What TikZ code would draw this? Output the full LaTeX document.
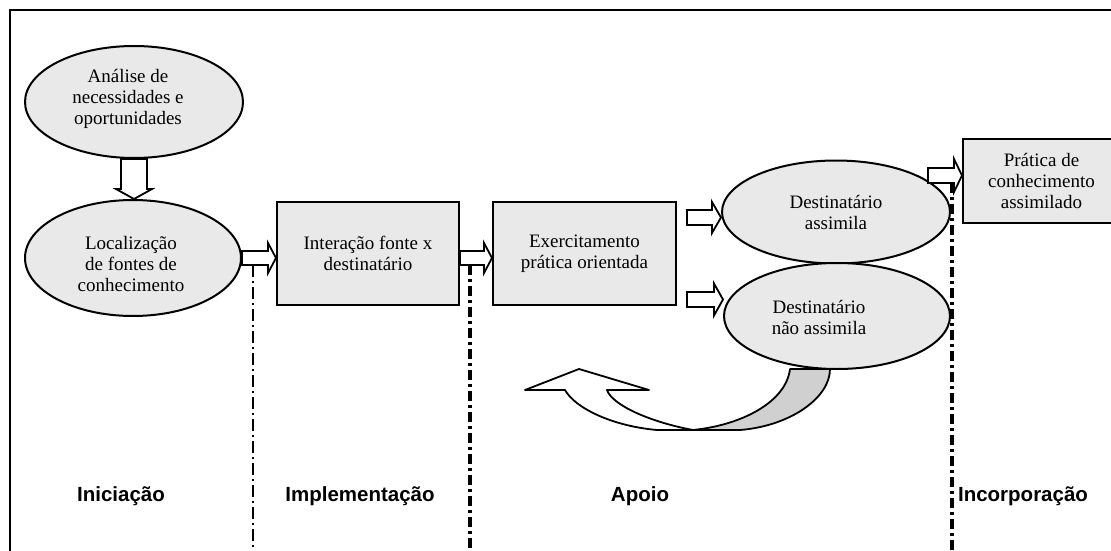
\documentclass[tikz,border=0pt]{standalone}
\usepackage{fontspec}
\setmainfont{Liberation Serif}
\newfontfamily\labfont{Liberation Sans}
\usetikzlibrary{shapes.geometric,calc}
\definecolor{boxgray}{RGB}{233,233,233}
\definecolor{ribbongray}{RGB}{208,208,208}
\newcommand\harrow[5]{%
  \draw[barrow] let \p1=#1, \p2=#2 in
    (\x1,\y1+#3) -- (\x2-#5,\y1+#3) -- (\x2-#5,\y1+#4) -- (\x2,\y1)
    -- (\x2-#5,\y1-#4) -- (\x2-#5,\y1-#3) -- (\x1,\y1-#3) -- cycle;}
\begin{document}
\begin{tikzpicture}[x=1pt,y=-1pt,
  txt/.style={font=\fontsize{19}{21}\selectfont, align=center, inner sep=0pt},
  ell/.style={ellipse, draw, line width=2pt, fill=boxgray, inner sep=0pt, txt},
  box/.style={rectangle, draw, line width=2pt, fill=boxgray, inner sep=0pt, txt},
  barrow/.style={draw, line width=1.8pt, fill=white, line join=miter},
  phase/.style={font=\labfont\bfseries\fontsize{20.5}{24}\selectfont, anchor=base, inner sep=0pt},
  septhin/.style={line width=1.6pt, dash pattern=on 12pt off 4pt on 2pt off 4pt},
  septhick/.style={line width=3.5pt, dash pattern=on 10pt off 4pt on 3pt off 4pt}]
\useasboundingbox (0,0) rectangle (1111,551);
\draw[line width=2pt] (10,10) rectangle (1130,570);

% nodes
\node[ell, minimum width=218pt, minimum height=112pt] (e1) at (134,102) {};
\node[txt] (t1) at (128,99) {Análise de\\necessidades e\\oportunidades};
\node[ell, minimum width=216pt, minimum height=116pt] (e2) at (133,258) {};
\node[txt] (t2) at (131,264) {Localização\\de fontes de\\conhecimento};
\node[box, minimum width=182pt, minimum height=103pt] (b1) at (368,253.5) {Interação fonte x\\destinatário};
\node[box, minimum width=183pt, minimum height=103pt] (b2) at (584.5,253.5) {Exercitamento\\prática orientada};
\node[ell, minimum width=228pt, minimum height=103pt] (e3) at (836,212) {Destinatário\\assimila};
\node[ell, minimum width=226pt, minimum height=106pt] (e4) at (837,316) {};
\node[txt] (t4) at (819,317) {Destinatário\\não assimila};
\node[box, minimum width=157pt, minimum height=84pt] (b3) at (1041.5,181) {Prática de\\conhecimento\\assimilado};

% block arrows
\draw[barrow] let \p1=(e1.south), \p2=(e2.north) in
  (\x1-13pt,\y1) -- (\x1-13pt,\y2+10pt) -- (\x1-18pt,\y2+10pt) -- (\x1,\y2)
  -- (\x1+18pt,\y2+10pt) -- (\x1+13pt,\y2+10pt) -- (\x1+13pt,\y1) -- cycle;
\harrow{(e2.east)}{(b1.west)}{7pt}{15pt}{8pt}
\harrow{($(b1.east)+(0,4.5)$)}{(b2.west)}{7pt}{15pt}{8pt}
\harrow{($(b2.east)+(10,-36)$)}{(e3.west)}{7.5pt}{15.5pt}{9pt}
\harrow{($(b2.east)+(10,46)$)}{(e4.west)}{7.5pt}{16pt}{9pt}
\harrow{($(e3.east)+(-23,-36.5)$)}{(b3.west)}{7.5pt}{16.5pt}{8pt}

% curved return arrow
\filldraw[line width=1.8pt, fill=ribbongray, line join=round]
  (790,369) -- (830,369) .. controls (830,398) and (790,426) .. (740,430)
  -- (693,430) .. controls (742,425) and (786,402) .. (790,369) -- cycle;
\filldraw[line width=1.8pt, fill=white, line join=round]
  (565,390) .. controls (575,408) and (612,426) .. (657,430) -- (693,430)
  .. controls (650,422) and (612,405) .. (607,390)
  -- (649,390) -- (579,369) -- (525,390) -- cycle;

% separators
\draw[septhin] (253,265) -- (253,560);
\draw[septhick] (470,265) -- (470,560);
\draw[septhick] (952,183) -- (952,560);

% phase labels
\node[phase] (p1) at (121,501) {Iniciação};
\node[phase] (p2) at (360,501) {Implementação};
\node[phase] (p3) at (640,501) {Apoio};
\node[phase] (p4) at (1023,501) {Incorporação};
\end{tikzpicture}
\end{document}
